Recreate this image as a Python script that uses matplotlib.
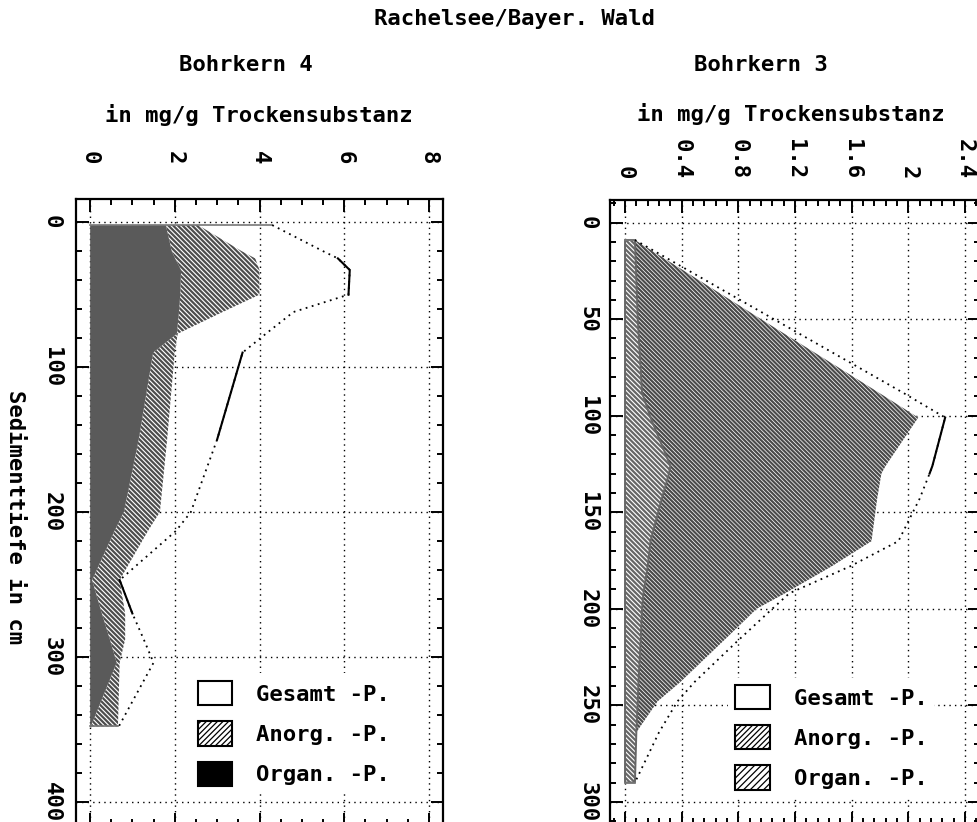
import matplotlib
matplotlib.use('Agg')
import numpy as np
import matplotlib.pyplot as plt
from matplotlib.patches import Patch
from matplotlib.ticker import FixedLocator, FixedFormatter, MultipleLocator

plt.rcParams['font.family'] = ['DejaVu Sans Mono', 'DejaVu Sans']
plt.rcParams['font.weight'] = 'bold'
plt.rcParams['font.size'] = 16
plt.rcParams['hatch.linewidth'] = 1.6

# Bohrkern 4 (Tiefe in cm, Werte in mg/g TS)
tiefe_4 = [2, 20, 25, 33, 50, 62, 77, 90, 150, 200, 213, 247, 270, 288, 304, 348]
organ_4 = [1.79, 1.93, 2.01, 2.15, 2.13, 2.10, 2.05, 1.49, 1.15, 0.80, 0.58, 0.05, 0.28, 0.47, 0.63, 0.02]
anorg_4 = [0.76, 1.65, 1.89, 1.85, 1.87, 1.03, 0.02, 0.51, 0.67, 0.85, 0.79, 0.65, 0.55, 0.36, 0.07, 0.64]
gesamt_4 = [4.30, 5.50, 5.85, 6.13, 6.10, 4.80, 4.15, 3.60, 3.00, 2.38, 2.03, 0.70, 1.00, 1.27, 1.50, 0.68]
solid_4 = [(25, 50), (90, 150), (247, 270)]

# Bohrkern 3
tiefe_3 = [9, 50, 88, 101, 126, 130, 143, 165, 178, 192, 200, 217, 238, 248, 264, 290]
organ_3 = [0.07, 0.09, 0.12, 0.18, 0.32, 0.31, 0.26, 0.18, 0.16, 0.13, 0.12, 0.11, 0.095, 0.09, 0.08, 0.07]
anorg_3 = [0.0, 0.87, 1.67, 1.89, 1.52, 1.50, 1.52, 1.56, 1.30, 1.00, 0.81, 0.58, 0.295, 0.14, 0.0, 0.0]
gesamt_3 = [0.07, 1.05, 1.96, 2.26, 2.17, 2.15, 2.08, 1.93, 1.59, 1.16, 1.04, 0.79, 0.49, 0.37, 0.24, 0.07]
solid_3 = [(101, 130)]

xticks_4 = [0, 2, 4, 6, 8]
xlabels_4 = ['0', '2', '4', '6', '8']
yticks_4 = [0, 100, 200, 300, 400]
xticks_3 = [0, 0.4, 0.8, 1.2, 1.6, 2.0, 2.4]
xlabels_3 = ['0', '0.4', '0.8', '1.2', '1.6', '2', '2.4']
yticks_3 = [0, 50, 100, 150, 200, 250, 300]

W, H = 977, 822
fig = plt.figure(figsize=(W / 100, H / 100), dpi=100)


def px_axes(x0, y0, x1, y1):
    return fig.add_axes([x0 / W, 1 - y1 / H, (x1 - x0) / W, (y1 - y0) / H])


def achsen(ax, xticks, xlabels, xminor, yticks, yminor, xpad, ypad):
    ax.xaxis.set_major_locator(FixedLocator(xticks))
    ax.xaxis.set_major_formatter(FixedFormatter(xlabels))
    ax.xaxis.set_minor_locator(MultipleLocator(xminor))
    ax.yaxis.set_major_locator(FixedLocator(yticks))
    ax.yaxis.set_major_formatter(FixedFormatter([str(t) for t in yticks]))
    ax.yaxis.set_minor_locator(MultipleLocator(yminor))
    ax.tick_params(which='both', direction='in', top=True, bottom=True,
                   left=True, right=True, labeltop=True, labelbottom=False,
                   width=1.4, color='black')
    ax.tick_params(which='major', length=9)
    ax.tick_params(which='minor', length=4)
    ax.tick_params(axis='x', labelrotation=-90, pad=xpad)
    ax.tick_params(axis='y', labelrotation=-90, pad=ypad)
    for lab in ax.get_xticklabels():
        lab.set_verticalalignment('bottom')
        lab.set_horizontalalignment('center')
    for lab in ax.get_yticklabels():
        lab.set_verticalalignment('center')
    ax.grid(True, which='major', color='black', lw=1.0, linestyle=(0, (1, 3)))
    ax.set_axisbelow(True)
    for s in ax.spines.values():
        s.set_linewidth(1.6)


def kern(ax, tiefe, organ, anorg, gesamt, solid, organ_style):
    t = np.array(tiefe)
    o = np.array(organ)
    a = o + np.array(anorg)
    g = np.array(gesamt)
    if organ_style == 'fill':
        ax.fill_betweenx(t, 0, o, facecolor='#5a5a5a', edgecolor='#5a5a5a', lw=0.5)
        ax.fill_betweenx(t, o, a, facecolor='white', edgecolor='#4d4d4d',
                         hatch='\\' * 7, lw=0)
    else:
        ax.fill_betweenx(t, o, a, facecolor='white', edgecolor='#4a4a4a',
                         hatch='\\' * 8, lw=0)
        ax.fill_betweenx(t, 0, o, facecolor='white', edgecolor='#666666',
                         hatch='\\' * 7, lw=1.4)
    ax.plot([0, g[0]], [t[0], t[0]], color='#777777', lw=1.2)
    ax.plot([0, a[-1]], [t[-1], t[-1]], color='#777777', lw=1.2)
    ax.plot(g, t, color='black', lw=1.3, linestyle=(0, (1, 2.5)))
    for d0, d1 in solid:
        m = (t >= d0) & (t <= d1)
        ax.plot(g[m], t[m], color='black', lw=1.5)


leg_opts = dict(loc='lower left', handlelength=1.55, handleheight=1.3,
                labelspacing=0.72, handletextpad=1.1, borderaxespad=0,
                fancybox=False, framealpha=1, edgecolor='none', facecolor='white')

# linkes Diagramm: Bohrkern 4
ax1 = px_axes(76, 199, 443, 825)
ax1.set_xlim(-0.33, 8.33)
ax1.set_ylim(416, -16)
kern(ax1, tiefe_4, organ_4, anorg_4, gesamt_4, solid_4, 'fill')
achsen(ax1, xticks_4, xlabels_4, 0.5, yticks_4, 20, 25, 10)

# rechtes Diagramm: Bohrkern 3
ax2 = px_axes(610, 200, 980, 824.4)
ax2.set_xlim(-0.106, 2.506)
ax2.set_ylim(311.7, -11.7)
kern(ax2, tiefe_3, organ_3, anorg_3, gesamt_3, solid_3, 'hatch')
achsen(ax2, xticks_3, xlabels_3, 0.08, yticks_3, 10, 15, 9)

# Legenden mit duennerer Schraffur
with plt.rc_context({'hatch.linewidth': 0.9}):
    h1 = [Patch(facecolor='white', edgecolor='black', lw=1.5, label='Gesamt -P.'),
          Patch(facecolor='white', edgecolor='black', lw=1.5, hatch='/' * 6, label='Anorg. -P.'),
          Patch(facecolor='black', edgecolor='black', lw=1.5, label='Organ. -P.')]
    ax1.legend(handles=h1, bbox_to_anchor=(0.31, 0.05), borderpad=0.35, **leg_opts)

    h2 = [Patch(facecolor='white', edgecolor='black', lw=1.5, label='Gesamt -P.'),
          Patch(facecolor='white', edgecolor='black', lw=1.5, hatch='/' * 6, label='Anorg. -P.'),
          Patch(facecolor='white', edgecolor='black', lw=1.5, hatch='/' * 5, label='Organ. -P.')]
    ax2.legend(handles=h2, bbox_to_anchor=(0.32, 0.045), borderpad=0.3, **leg_opts)

# Beschriftungen
fig.text(514 / W, 1 - 19 / H, 'Rachelsee/Bayer. Wald', ha='center', va='center')
fig.text(246 / W, 1 - 65 / H, 'Bohrkern 4', ha='center', va='center')
fig.text(259 / W, 1 - 115 / H, 'in mg/g Trockensubstanz', ha='center', va='center')
fig.text(761 / W, 1 - 65 / H, 'Bohrkern 3', ha='center', va='center')
fig.text(791 / W, 1 - 114 / H, 'in mg/g Trockensubstanz', ha='center', va='center')
fig.text(15 / W, 1 - 517 / H, 'Sedimenttiefe in cm', ha='center', va='center',
         rotation=-90)

fig.savefig('out.png', dpi=100)
